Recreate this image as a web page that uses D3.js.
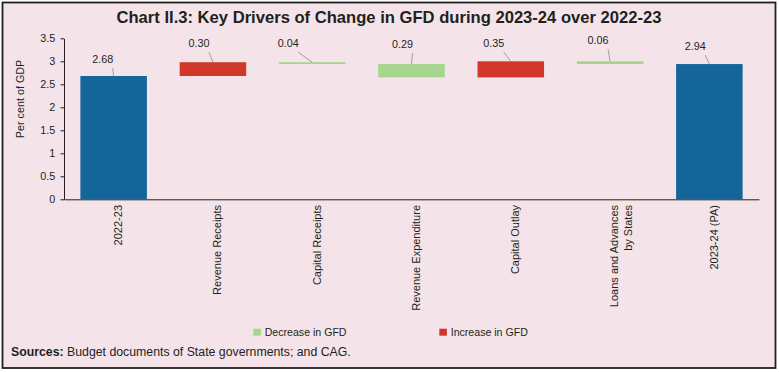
<!DOCTYPE html>
<html>
<head>
<meta charset="utf-8">
<script src="https://cdn.jsdelivr.net/npm/d3@7"></script>
<style>
  body { margin: 0; background: #fff; }
  svg text { font-family: "Liberation Sans", Arial, sans-serif; fill: #231f20; }
</style>
</head>
<body>
<div id="chart"></div>
<script>
// Waterfall : variations du GFD 2022-23 -> 2023-24
const categories = ["2022-23", "Revenue Receipts", "Capital Receipts", "Revenue Expenditure",
                    "Capital Outlay", "Loans and Advances|by States", "2023-24 (PA)"];
const values = [2.68, 0.30, -0.04, -0.29, 0.35, -0.06, 2.94];
const kinds = ["total", "change", "change", "change", "change", "change", "total"];
const valueLabels = ["2.68", "0.30", "0.04", "0.29", "0.35", "0.06", "2.94"];
const yTicks = [0, 0.5, 1, 1.5, 2, 2.5, 3, 3.5];
const legendItems = ["Decrease in GFD", "Increase in GFD"];

// décalage des étiquettes (layout, pas des données)
const labelNudge = [[-11, -17], [-14, -19], [-24, -19], [-9, -20], [-17, -18], [-12, -21], [-14, -18]];

const W = 779, H = 372;
const colors = { total: "#14659a", up: "#d1382a", down: "#a6d68e" };

const svg = d3.select("#chart").append("svg")
  .attr("width", W).attr("height", H);

svg.append("rect")
  .attr("x", 2.5).attr("y", 2.5).attr("width", 773).attr("height", 365.5)
  .attr("fill", "#f4e4e9").attr("stroke", "#231f20").attr("stroke-width", 1.8);

// calcul du waterfall
let run = 0;
const bars = categories.map((c, i) => {
  let y0, y1;
  if (kinds[i] === "total") { y0 = 0; y1 = values[i]; run = values[i]; }
  else { y0 = run; y1 = run + values[i]; run = y1; }
  const fill = kinds[i] === "total" ? colors.total : (values[i] > 0 ? colors.up : colors.down);
  return { c, i, y0, y1, top: Math.max(y0, y1), fill };
});

const x = d3.scaleBand().domain(categories).range([64, 759])
  .paddingInner(0.33).paddingOuter(0.165);
const y = d3.scaleLinear().domain([0, 3.5]).range([199.3, 38.3]);

// Title
svg.append("text")
  .attr("x", 389).attr("y", 23)
  .attr("text-anchor", "middle")
  .attr("font-size", 16.6).attr("font-weight", "bold")
  .text("Chart II.3: Key Drivers of Change in GFD during 2023-24 over 2022-23");

// Axes
const yAxis = svg.append("g")
  .attr("transform", "translate(64,0)")
  .call(d3.axisLeft(y).tickValues(yTicks).tickSize(3.5).tickSizeOuter(0).tickFormat(d3.format("")));
yAxis.selectAll("text").attr("font-size", 10.8).attr("dx", "-0.2em")
  .style("font-family", "Liberation Sans, Arial, sans-serif").attr("fill", "#231f20");
yAxis.selectAll("line, path").attr("stroke", "#231f20");

svg.append("text")
  .attr("transform", "translate(24,99) rotate(-90)")
  .attr("text-anchor", "middle")
  .attr("font-size", 10.8)
  .text("Per cent of GDP");

const xAxis = svg.append("g")
  .attr("transform", `translate(0,${y(0)})`)
  .call(d3.axisBottom(x).tickSize(0).tickSizeOuter(0).tickFormat(""));
xAxis.select("path").attr("stroke", "#231f20");

// Bars
svg.append("g").selectAll("rect")
  .data(bars)
  .join("rect")
    .attr("x", d => x(d.c))
    .attr("width", x.bandwidth())
    .attr("y", d => y(Math.max(d.y0, d.y1)))
    .attr("height", d => Math.max(1.5, Math.abs(y(d.y0) - y(d.y1))))
    .attr("fill", d => d.fill);

// Value labels + leader lines
const lab = svg.append("g");
bars.forEach(d => {
  const cx = x(d.c) + x.bandwidth() / 2;
  const ty = y(d.top);
  const [dx, dy] = labelNudge[d.i];
  lab.append("line")
    .attr("x1", cx + dx + 10).attr("y1", ty + dy + 9)
    .attr("x2", cx).attr("y2", ty)
    .attr("stroke", "#8c8c8c").attr("stroke-width", 0.8);
  lab.append("text")
    .attr("x", cx + dx).attr("y", ty + dy)
    .attr("dy", "0.35em")
    .attr("text-anchor", "middle")
    .attr("font-size", 10.8)
    .text(valueLabels[d.i]);
});

// Category labels (rotated)
categories.forEach(c => {
  const t = svg.append("text")
    .attr("transform", `translate(${x(c) + x.bandwidth() / 2 + 4.5},205) rotate(-90)`)
    .attr("text-anchor", "end")
    .attr("font-size", 11);
  c.split("|").forEach((line, k) => {
    t.append("tspan").attr("x", 0).attr("dy", k === 0 ? "0.35em" : "1.25em").text(line);
  });
});

// Legend
const lg = svg.append("g");
[[253.3, colors.down], [439.3, colors.up]].forEach(([lx, col], k) => {
  lg.append("rect").attr("x", lx).attr("y", 328.7).attr("width", 7.6).attr("height", 7).attr("fill", col);
  lg.append("text").attr("x", lx + 11.4).attr("y", 332).attr("dy", "0.35em")
    .attr("font-size", 10.6).text(legendItems[k]);
});

// Source
const src = svg.append("text").attr("x", 11).attr("y", 356).attr("font-size", 12.3);
src.append("tspan").attr("font-weight", "bold").text("Sources:");
src.append("tspan").text(" Budget documents of State governments; and CAG.");
</script>
</body>
</html>
